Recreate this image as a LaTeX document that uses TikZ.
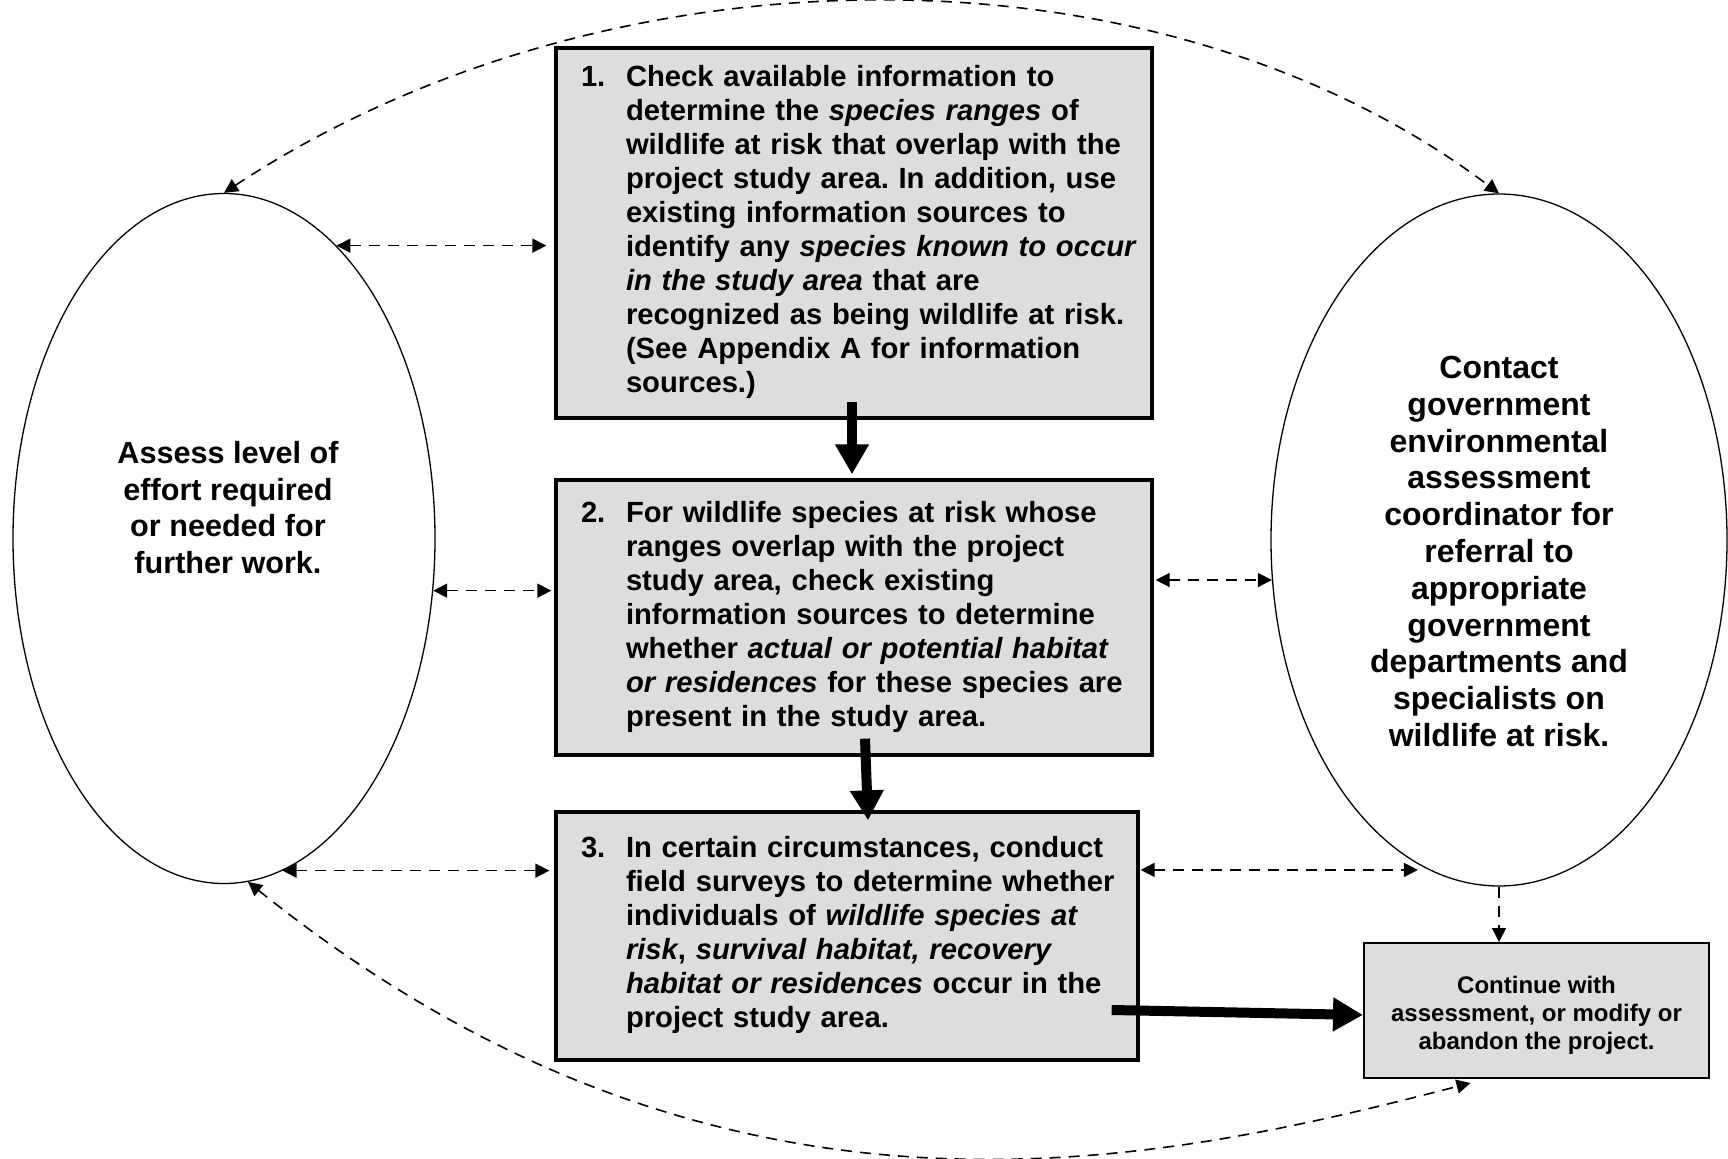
\documentclass[tikz,border=0pt]{standalone}
\usepackage{fontspec}
\setmainfont{Liberation Sans}
\usetikzlibrary{shapes.geometric,arrows.meta,calc}
\definecolor{boxgray}{RGB}{221,221,221}
\frenchspacing
\tikzset{
  stepbox/.style={draw,line width=1.65pt,fill=boxgray,inner xsep=12.5pt,inner ysep=0pt,
    font=\bfseries\fontsize{14.6}{17}\selectfont},
  oval/.style={draw,ellipse,line width=0.65pt,inner sep=0pt},
  ovaltext/.style={align=center,font=\bfseries\fontsize{16}{18.4}\selectfont},
  link/.style={line width=0.8pt,dash pattern=on 5.5pt off 4pt,
    {Triangle[length=7pt,width=7pt]}-{Triangle[length=7pt,width=7pt]}},
  linkto/.style={link,-{Triangle[length=7pt,width=7pt]}},
  bigarrow/.style={line width=5pt,-{Triangle[length=15pt,width=16pt]}}
}
\newcommand{\stepitem}[2]{\makebox[22.5pt][l]{#1}\begin{tabular}[t]{@{}l@{}}#2\end{tabular}}
\begin{document}
\begin{tikzpicture}[x=0.5pt,y=-0.5pt]
  \useasboundingbox (0,0) rectangle (1728,1159);
  \node[stepbox,text width=273pt,minimum height=185pt] (one) at (854,233) {\stepitem{1.}{%
    Check available information to\\
    determine the \textit{species ranges} of\\
    wildlife at risk that overlap with the\\
    project study area. In addition, use\\
    existing information sources to\\
    identify any \textit{species known to occur}\\
    \textit{in the study area} that are\\
    recognized as being wildlife at risk.\\
    (See Appendix A for information\\
    sources.)}};
  \node[stepbox,text width=273pt,minimum height=137.5pt] (two) at (854,617.5) {\stepitem{2.}{%
    For wildlife species at risk whose\\
    ranges overlap with the project\\
    study area, check existing\\
    information sources to determine\\
    whether \textit{actual or potential habitat}\\
    \textit{or residences} for these species are\\
    present in the study area.}};
  \node[stepbox,text width=266pt,minimum height=124pt] (three) at (847,936) {\stepitem{3.}{%
    In certain circumstances, conduct\\
    field surveys to determine whether\\
    individuals of \textit{wildlife species at}\\
    \textit{risk}, \textit{survival habitat, recovery}\\
    \textit{habitat or residences} occur in the\\
    project study area.}};
  \node[draw,line width=1pt,fill=boxgray,align=center,minimum width=172.5pt,minimum height=67.5pt,
    font=\bfseries\fontsize{12}{14}\selectfont] (cont) at (1536.5,1010.5)
    {\rule{0pt}{13.2pt}Continue with\\assessment, or modify or\\abandon the project.};
  \node[oval,minimum width=211pt,minimum height=345pt] (assess) at (224,538.5) {};
  \node[ovaltext,font=\bfseries\fontsize{15.3}{18.4}\selectfont] (assesstext) at (228,507.5)
    {Assess level of\\effort required\\or needed for\\further work.};
  \node[oval,minimum width=228pt,minimum height=346pt] (contact) at (1499,540) {};
  \node[ovaltext] (contacttext) at (1499,551.5)
    {Contact\\government\\environmental\\assessment\\coordinator for\\referral to\\appropriate\\government\\departments and\\specialists on\\wildlife at risk.};

  \draw[bigarrow] ($(one.south)+(-2,-18)$) -- ($(two.north)+(-2,-4)$);
  \draw[bigarrow] ($(two.south)+(11,-18)$) -- ($(three.north)+(21,10)$);
  \draw[bigarrow] ($(three.east)+(-28,74)$) -- ($(cont.west)+(0,4.5)$);

  \draw[link] (assess.69.5) -- ($(assess.69.5 -| one.west)+(-8,0)$);
  \draw[link] (assess.-14) -- ($(assess.-14 -| two.west)+(-3,0)$);
  \draw[link] (assess.-80) -- ($(assess.-80 -| three.west)+(-5,0)$);
  \draw[link] ($(contact.190 -| two.east)+(2,0)$) -- (contact.190);
  \draw[link] ($(contact.258 -| three.east)+(1,0)$) -- ($(contact.258)+(-11,0)$);
  \draw[linkto] (contact.south) -- (contact.south |- cont.north);

  \draw[link] (assess.north) .. controls +(376,-248) and +(-349,-262) .. (contact.north);
  \draw[link] (assess.-86) .. controls +(472,379) and +(-320,83) .. ($(cont.south)+(-66,4)$);
\end{tikzpicture}
\end{document}
